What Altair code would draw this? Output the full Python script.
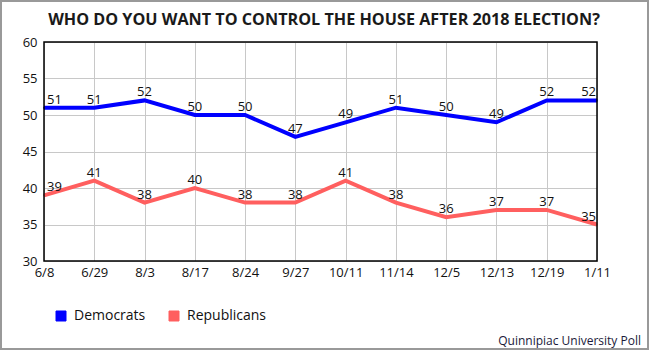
import altair as alt
import pandas as pd

dates = ["6/8", "6/29", "8/3", "8/17", "8/24", "9/27", "10/11", "11/14", "12/5", "12/13", "12/19", "1/11"]
democrats = [51, 51, 52, 50, 50, 47, 49, 51, 50, 49, 52, 52]
republicans = [39, 41, 38, 40, 38, 38, 41, 38, 36, 37, 37, 35]
series = ["Democrats", "Republicans"]
colors = ["#0000ff", "#ff5f5f"]
title_text = "WHO DO YOU WANT TO CONTROL THE HOUSE AFTER 2018 ELECTION?"
source_text = "Quinnipiac University Poll"

rows = []
for i, d in enumerate(dates):
    pos = "first" if i == 0 else ("last" if i == len(dates) - 1 else "mid")
    rows.append({"date": d, "party": "Democrats", "key": "Democrats", "value": democrats[i], "pos": pos})
    rows.append({"date": d, "party": "Republicans", "key": "Republicans", "value": republicans[i], "pos": pos})
df = pd.DataFrame(rows)

FONT = "Open Sans"
W, H = 553, 219

x = alt.X("date:N", sort=dates, scale=alt.Scale(type="point", padding=0),
          axis=alt.Axis(title=None, labelAngle=0, ticks=False, domain=False,
                        labelFontSize=13, labelColor="#111", labelPadding=5,
                        labelOverlap=False,
                        grid=True, gridColor="#c8c8c8", labelFont=FONT))
y = alt.Y("value:Q", scale=alt.Scale(domain=[30, 60], nice=False, zero=False),
          axis=alt.Axis(title=None, values=[30, 35, 40, 45, 50, 55, 60], ticks=False,
                        domain=False, labelFontSize=13, labelColor="#111", labelPadding=7,
                        labelOverlap=False,
                        grid=True, gridColor="#c8c8c8", labelFont=FONT))

base = alt.Chart(df)

# tiny squares hidden under the lines; they carry the filled legend
legend_layer = base.mark_square(size=4, filled=True).encode(
    x=x, y=y,
    color=alt.Color("key:N", scale=alt.Scale(domain=series, range=colors),
                    legend=alt.Legend(title=None, orient="none", legendX=10, legendY=267,
                                      direction="horizontal", symbolType="square",
                                      symbolSize=100, symbolStrokeColor="#222",
                                      symbolStrokeWidth=1, symbolOpacity=1,
                                      labelFontSize=14, labelFont=FONT, labelColor="#111",
                                      columnPadding=21, labelOffset=6)))

lines = base.mark_line(strokeWidth=4).encode(
    x=x, y=y,
    stroke=alt.Stroke("party:N", scale=alt.Scale(domain=series, range=colors), legend=None))

def labels(pos, align, dx):
    return base.transform_filter(alt.datum.pos == pos).mark_text(
        align=align, baseline="bottom", dx=dx, dy=-1, fontSize=13, font=FONT, color="#111"
    ).encode(x=x, y=y, text="value:Q")

one = pd.DataFrame({"a": [0]})
frame = alt.Chart(one).mark_rect(
    fill=None, stroke="#000", strokeWidth=1.5
).encode(x=alt.value(0), x2=alt.value(W), y=alt.value(0), y2=alt.value(H))

outer = alt.Chart(one).mark_rect(
    fill=None, stroke="#999", strokeWidth=2
).encode(x=alt.value(-43), x2=alt.value(604), y=alt.value(-41), y2=alt.value(307))

footer = alt.Chart(pd.DataFrame({"t": [source_text]})).mark_text(
    align="right", baseline="alphabetic", fontSize=12, font=FONT, color="#1a1a3a"
).encode(x=alt.value(597), y=alt.value(303), text="t:N")

title = alt.Chart(pd.DataFrame({"t": [title_text]})).mark_text(
    align="center", baseline="alphabetic", fontSize=16.2, font=FONT, fontWeight="bold",
    color="#1a1a1a"
).encode(x=alt.value(280), y=alt.value(-17.5), text="t:N")

chart = alt.layer(
    legend_layer, lines,
    labels("first", "left", 3), labels("mid", "center", 0), labels("last", "right", -1),
    frame, footer, title, outer
).properties(
    width=W, height=H,
    padding={"left": 44, "top": 42, "right": 53, "bottom": 89},
    autosize=alt.AutoSizeParams(type="none"),
    background="white",
).configure_view(stroke=None).configure_axis(labelOverlap=False)

chart.save("out.html", embed_options={"renderer": "svg", "actions": False})
